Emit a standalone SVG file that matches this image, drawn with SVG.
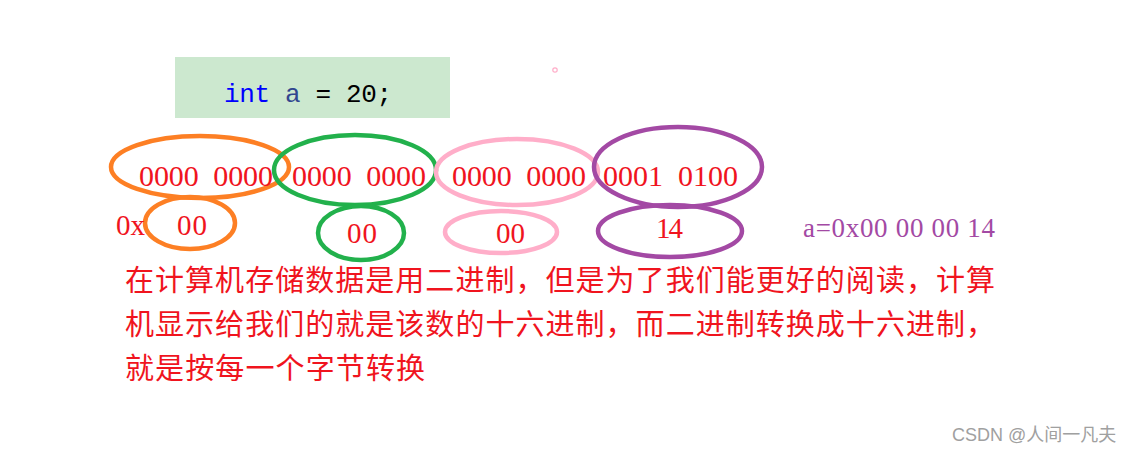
<svg xmlns="http://www.w3.org/2000/svg" width="1138" height="454" viewBox="0 0 1138 454">
<style>
.bin{font-family:"Liberation Serif","Times New Roman",serif;font-size:30px;fill:#f0141e;white-space:pre}
.hex{font-family:"Liberation Serif","Times New Roman",serif;font-size:29px;fill:#f0141e}
.cn{font-family:"Noto Sans CJK SC","Noto Sans",sans-serif;font-size:29px;fill:#f0141e}
.ring{fill:none;stroke-width:4.5}
.or{stroke:#fd7f24}.gr{stroke:#22b14c}.pk{stroke:#ffaec9}.pu{stroke:#a349a4}
</style>
<rect width="1138" height="454" fill="#ffffff"/>
<g id="code">
<rect x="175" y="57" width="275" height="61" fill="#cce8cf"/>
<text x="224" y="102" font-family="Liberation Mono,monospace" font-size="26" textLength="168"><tspan fill="#0000ff">int</tspan><tspan fill="#31468f"> a</tspan><tspan fill="#000000"> = 20;</tspan></text>
</g>
<circle cx="555" cy="70" r="2.2" fill="none" stroke="#ffaec9" stroke-width="1.2"/>
<g id="byte1">
<ellipse class="ring or" cx="200" cy="167" rx="89" ry="31"/>
<text class="bin" xml:space="preserve" x="139" y="186" textLength="134">0000  0000</text>
<ellipse class="ring or" cx="190" cy="223" rx="45" ry="26"/>
<text class="hex" x="116" y="235" textLength="29">0x</text>
<text class="hex" x="177" y="235" textLength="30">00</text>
</g>
<g id="byte2">
<ellipse class="ring gr" cx="355" cy="170" rx="81" ry="35"/>
<text class="bin" xml:space="preserve" x="292" y="186" textLength="134">0000  0000</text>
<ellipse class="ring gr" cx="361" cy="233" rx="43" ry="27"/>
<text class="hex" x="347" y="243" textLength="30">00</text>
</g>
<g id="byte3">
<ellipse class="ring pk" cx="517" cy="172" rx="81" ry="33"/>
<text class="bin" xml:space="preserve" x="452" y="186" textLength="134">0000  0000</text>
<ellipse class="ring pk" cx="501" cy="232" rx="56" ry="21"/>
<text class="hex" x="496" y="243" textLength="29">00</text>
</g>
<g id="byte4">
<ellipse class="ring pu" cx="678" cy="167" rx="84" ry="40"/>
<text class="bin" xml:space="preserve" x="603" y="186" textLength="135">0001  0100</text>
<ellipse class="ring pu" cx="670" cy="231" rx="72" ry="26"/>
<text class="hex" x="656" y="238" textLength="27">14</text>
</g>
<g id="result">
<text x="803" y="237" font-family="Liberation Serif,serif" font-size="27" fill="#a349a4" textLength="192">a=0x00 00 00 14</text>
</g>
<g id="note">
<text class="cn" x="125" y="291" textLength="870">在计算机存储数据是用二进制，但是为了我们能更好的阅读，计算</text>
<text class="cn" x="125" y="335" textLength="870">机显示给我们的就是该数的十六进制，而二进制转换成十六进制，</text>
<text class="cn" x="125" y="379" textLength="300">就是按每一个字节转换</text>
</g>
<text x="952" y="441" font-family="Liberation Sans,'Noto Sans CJK SC',sans-serif" font-size="18" fill="#a0a0a0">CSDN @人间一凡夫</text>
</svg>
